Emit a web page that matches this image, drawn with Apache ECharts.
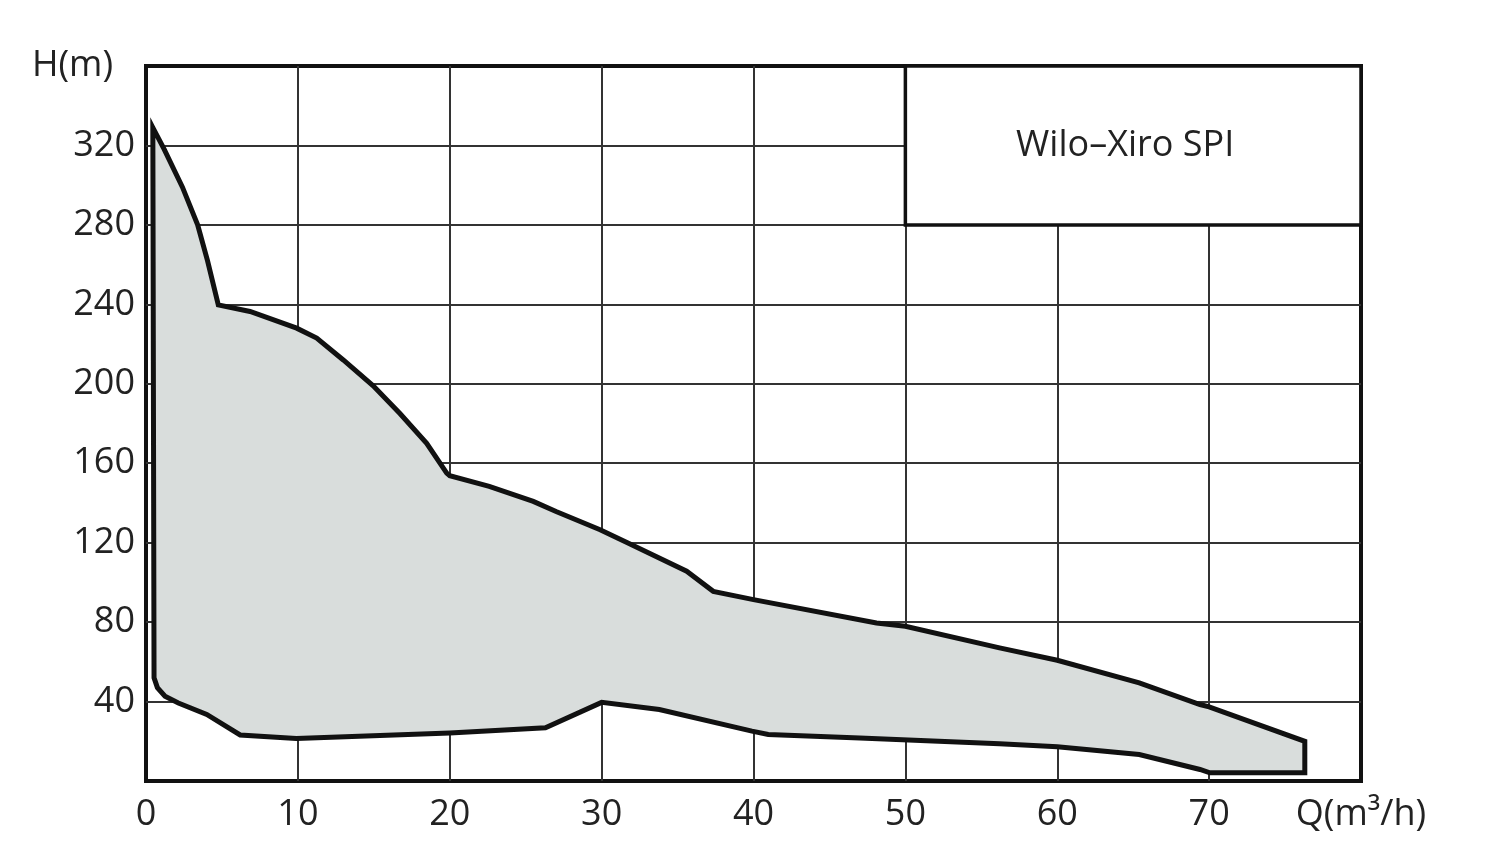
<!DOCTYPE html>
<html>
<head>
<meta charset="utf-8">
<style>
  html, body { margin: 0; padding: 0; background: #fff; }
  #chart { width: 1492px; height: 860px; }
</style>
<script src="https://cdn.jsdelivr.net/npm/echarts@6/dist/echarts.min.js"></script>
</head>
<body>
<div id="chart"></div>
<script>
// operating field, upper edge (left -> right)
var upperQ = [0.45, 1.2, 2.4, 3.4, 4.05, 4.76, 6.85, 9.92, 11.24, 12.99, 14.96, 16.72, 18.48, 19.8, 20.0,
              22.6, 25.5, 27.0, 29.9, 31.7, 35.6, 37.35, 40, 48.1, 50, 56.2, 60, 65.4, 69.4, 70, 76.3];
var upperH = [329, 318, 299, 280, 262, 239.7, 236.4, 228, 223, 212, 199, 185, 170, 155, 153.7,
              148.3, 140.8, 135.7, 126.5, 120, 105.6, 95.5, 91.3, 79.6, 77.9, 67, 60.8, 49.4, 38.5, 37.3, 20];
// operating field, lower edge (left -> right)
var lowerQ = [0.53, 0.75, 1.25, 2.13, 4.0, 6.2, 9.9, 20, 26.3, 30, 33.8, 39.9, 40.97, 47, 56.2, 60, 65.4, 69.4, 70.05, 76.3];
var lowerH = [52, 47, 42.7, 39.3, 33.5, 23.2, 21.4, 24.2, 26.8, 39.6, 36, 25.1, 23.4, 21.7, 18.8, 17.2, 13.3, 5.8, 4.1, 4.1];

var xTicks = [0, 10, 20, 30, 40, 50, 60, 70, 80];
var yTicks = [0, 40, 80, 120, 160, 200, 240, 280, 320, 360];
var xName = 'Q(m³/h)';
var yName = 'H(m)';

var boxTitle = 'Wilo–Xiro SPI';
var boxFrom = [50, 360];
var boxTo = [80, 280];

var FONT = '"Open Sans", "Noto Sans", sans-serif';
var FILL = '#d9dddc';
var INK = '#111';

var outline = [];
upperQ.forEach(function (q, i) { outline.push([q, upperH[i]]); });
for (var i = lowerQ.length - 1; i >= 0; i--) outline.push([lowerQ[i], lowerH[i]]);

var chart = echarts.init(document.getElementById('chart'));

chart.setOption({
  animation: false,
  grid: {
    left: 146, right: 131, top: 66, bottom: 79,
    show: true,
    borderColor: INK,
    borderWidth: 4,
    backgroundColor: 'transparent'
  },
  xAxis: {
    type: 'value',
    min: xTicks[0],
    max: xTicks[xTicks.length - 1],
    interval: 10,
    axisLine: { show: false },
    axisTick: { show: false },
    splitLine: { show: true, showMinLine: false, showMaxLine: false, lineStyle: { color: '#333', width: 2 } },
    axisLabel: {
      margin: 16,
      fontFamily: FONT,
      fontSize: 36,
      color: '#222',
      formatter: function (v) { return v === xTicks[xTicks.length - 1] ? xName : String(v); }
    }
  },
  yAxis: {
    type: 'value',
    min: yTicks[0],
    max: yTicks[yTicks.length - 1],
    interval: 40,
    axisLine: { show: false },
    axisTick: { show: false },
    splitLine: { show: true, showMinLine: false, showMaxLine: false, lineStyle: { color: '#333', width: 2 } },
    axisLabel: {
      margin: 11,
      fontFamily: FONT,
      fontSize: 36,
      color: '#222',
      formatter: function (v) {
        if (v === 0) return '';
        if (v === yTicks[yTicks.length - 1]) return '{h|' + yName + '}';
        return String(v);
      },
      rich: {
        h: { fontFamily: FONT, fontSize: 36, color: '#222', padding: [0, 22, 0, 0] }
      }
    }
  },
  series: [
    {
      type: 'custom',
      name: 'field',
      clip: true,
      z: 3,
      data: [outline[0]],
      renderItem: function (params, api) {
        var pts = outline.map(function (p) { return api.coord(p); });
        return {
          type: 'polygon',
          shape: { points: pts },
          style: { fill: FILL, stroke: INK, lineWidth: 5, lineJoin: 'miter', miterLimit: 20 }
        };
      }
    },
    {
      type: 'line',
      name: 'titlebox',
      data: [],
      markArea: {
        silent: true,
        itemStyle: { color: '#fff', borderColor: INK, borderWidth: 3.5, opacity: 1 },
        label: {
          show: true,
          position: 'inside',
          fontFamily: FONT,
          fontSize: 36,
          color: '#222',
          offset: [-8, 0]
        },
        data: [[
          { name: boxTitle, coord: boxFrom },
          { coord: boxTo }
        ]]
      }
    }
  ]
});
</script>
</body>
</html>
